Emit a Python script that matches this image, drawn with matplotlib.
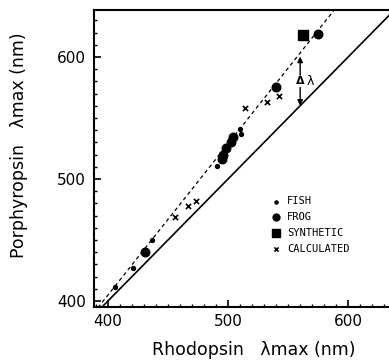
import numpy as np
import matplotlib.pyplot as plt
from matplotlib.ticker import MultipleLocator

# values (nm)
fish_rh = [406, 421, 437, 491, 510, 511]
fish_po = [411, 427, 450, 511, 541, 537]

frog_rh = [431, 495, 496, 498, 502, 504, 540, 575]
frog_po = [440, 516, 520, 525, 530, 534, 575, 619]

synth_rh = [562]
synth_po = [618]

calc_rh = [456, 467, 473, 514, 532, 542]
calc_po = [469, 478, 482, 558, 563, 568]

fit_slope = 1.24
fit_intercept = -91.1

delta_x = 560
delta_label_y = 580

fig = plt.figure(figsize=(3.89, 3.61), dpi=100)
ax = fig.add_axes([0.2416, 0.1496, 0.7584, 0.8227])

xs = np.array([388, 640])
ax.plot(xs, xs, color="black", lw=1.2)
ax.plot(xs, fit_slope * xs + fit_intercept, color="black", lw=0.9, ls=(0, (3, 2.5)))

ax.scatter(fish_rh, fish_po, s=8, color="black", marker="o", label="FISH", zorder=3)
ax.scatter(frog_rh, frog_po, s=38, color="black", marker="o", label="FROG", zorder=3)
ax.scatter(synth_rh, synth_po, s=50, color="black", marker="s", label="SYNTHETIC", zorder=3)
ax.scatter(calc_rh, calc_po, s=14, color="black", marker="x", linewidths=1.2, label="CALCULATED", zorder=3)

# delta lambda arrow between the two lines
top = fit_slope * delta_x + fit_intercept - 3
arrow = dict(arrowstyle="-|>", color="black", lw=1.0, mutation_scale=8, shrinkA=0, shrinkB=0)
ax.annotate("", xy=(delta_x, top), xytext=(delta_x, delta_label_y + 5), arrowprops=arrow)
ax.annotate("", xy=(delta_x, delta_x), xytext=(delta_x, delta_label_y - 5), arrowprops=arrow)
ax.text(delta_x, delta_label_y, "Δ", ha="center", va="center", fontsize=8, fontweight="bold")
ax.text(delta_x + 5, delta_label_y, "λ", ha="left", va="center", fontsize=9)

ax.set_xlim(388.3, 634)
ax.set_ylim(395, 638.5)

ax.xaxis.set_major_locator(MultipleLocator(100))
ax.xaxis.set_minor_locator(MultipleLocator(10))
ax.yaxis.set_major_locator(MultipleLocator(100))
ax.yaxis.set_minor_locator(MultipleLocator(10))
ax.tick_params(which="major", direction="in", length=5, width=1.2, labelsize=11, pad=5)
ax.tick_params(axis="y", which="major", pad=6)
ax.tick_params(which="minor", direction="in", length=2.5, width=1.0)

ax.spines["right"].set_visible(False)
for s in ["left", "bottom", "top"]:
    ax.spines[s].set_linewidth(1.5)

ax.set_xlabel("Rhodopsin   λmax (nm)", fontsize=12.5)
ax.set_ylabel("Porphyropsin   λmax (nm)", fontsize=12.5)
ax.xaxis.set_label_coords(0.54, -0.115)
ax.yaxis.set_label_coords(-0.225, 0.545)

ax.legend(loc="upper left", bbox_to_anchor=(0.583, 0.39), frameon=False,
          prop={"family": "DejaVu Sans Mono", "size": 7.5}, markerscale=0.8,
          handletextpad=0.5, labelspacing=0.55, handlelength=1.0, borderpad=0)

fig.savefig("out.png", dpi=100)
